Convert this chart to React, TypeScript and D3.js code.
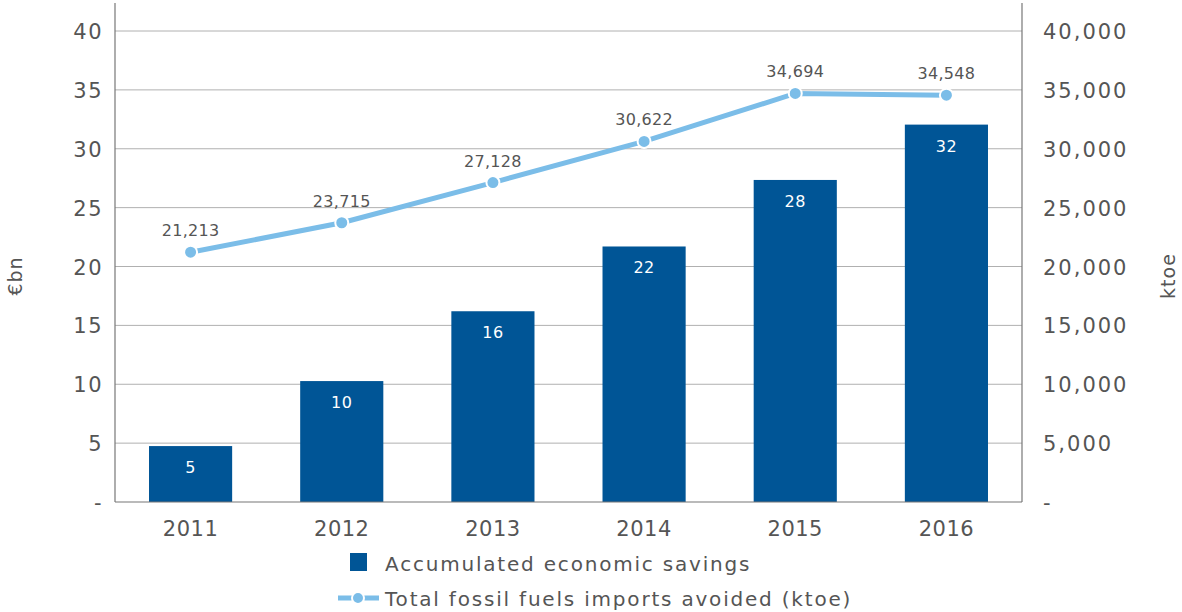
import React from "react";
import * as d3 from "d3";

const years = ["2011", "2012", "2013", "2014", "2015", "2016"];
const savings = [4.75, 10.27, 16.2, 21.7, 27.35, 32.05];
const savingsLabels = ["5", "10", "16", "22", "28", "32"];
const imports = [21213, 23715, 27128, 30622, 34694, 34548];
const leftTicks = [0, 5, 10, 15, 20, 25, 30, 35, 40];
const rightTicks = [0, 5000, 10000, 15000, 20000, 25000, 30000, 35000, 40000];

const W = 1182, H = 612;
const m = { left: 115, right: 1022, top: 31, bottom: 502 };
const barColor = "#005596";
const lineColor = "#7bbde8";
const textColor = "#555";
const font = "'DejaVu Sans', sans-serif";

export default function App() {
  const x = d3.scaleBand().domain(years).range([m.left, m.right]).paddingInner(0.45).paddingOuter(0.225);
  const yL = d3.scaleLinear().domain([0, 40]).range([m.bottom, m.top]);
  const yR = d3.scaleLinear().domain([0, 40000]).range([m.bottom, m.top]);
  const cx = (y: string) => (x(y) as number) + x.bandwidth() / 2;
  const line = d3.line<number>().x((_, i) => cx(years[i])).y((d) => yR(d));
  const fmt = d3.format(",");
  return (
    <svg width={W} height={H} style={{ position: "absolute", left: 0, top: 0, fontFamily: font }}>
      <rect width={W} height={H} fill="#fff" />
      {leftTicks.slice(1).map((t) => (
        <line key={t} x1={m.left} x2={m.right} y1={yL(t)} y2={yL(t)} stroke="#b0b0b0" strokeWidth={1} />
      ))}
      {years.map((yr, i) => (
        <g key={yr}>
          <rect x={x(yr)} y={yL(savings[i])} width={x.bandwidth()} height={m.bottom - yL(savings[i])} fill={barColor} />
          <text x={cx(yr)} y={yL(savings[i]) + 27} textAnchor="middle" fill="#fff" fontSize={16} letterSpacing={0.5}>{savingsLabels[i]}</text>
        </g>
      ))}
      <line x1={m.left} x2={m.left} y1={3} y2={m.bottom} stroke="#777" strokeWidth={1.2} />
      <line x1={m.right} x2={m.right} y1={3} y2={m.bottom} stroke="#777" strokeWidth={1.2} />
      <line x1={m.left} x2={m.right} y1={m.bottom} y2={m.bottom} stroke="#777" strokeWidth={1.2} />
      <path d={line(imports) || ""} fill="none" stroke={lineColor} strokeWidth={5} />
      {imports.map((v, i) => (
        <g key={i}>
          <circle cx={cx(years[i])} cy={yR(v)} r={6.5} fill={lineColor} stroke="#fff" strokeWidth={2} />
          <text x={cx(years[i])} y={yR(v) - 16} textAnchor="middle" fill={textColor} fontSize={16} letterSpacing={0.3}>{fmt(v)}</text>
        </g>
      ))}
      {leftTicks.map((t) => (
        <text key={t} x={103} y={yL(t) + 8} textAnchor="end" fill={textColor} fontSize={21} letterSpacing={1.5}>{t === 0 ? "-" : t}</text>
      ))}
      {rightTicks.map((t) => (
        <text key={t} x={1043} y={yR(t) + 8} textAnchor="start" fill={textColor} fontSize={21} letterSpacing={2}>{t === 0 ? "-" : fmt(t)}</text>
      ))}
      {years.map((yr) => (
        <text key={yr} x={cx(yr)} y={536} textAnchor="middle" fill={textColor} fontSize={21} letterSpacing={0.5}>{yr}</text>
      ))}
      <text transform={`translate(22,276) rotate(-90)`} textAnchor="middle" fill={textColor} fontSize={19} letterSpacing={1}>€bn</text>
      <text transform={`translate(1175,276) rotate(-90)`} textAnchor="middle" fill={textColor} fontSize={19} letterSpacing={1}>ktoe</text>
      <rect x={350} y={553} width={17} height={18} fill={barColor} />
      <text x={385} y={571} fill={textColor} fontSize={20} letterSpacing={1.8}>Accumulated economic savings</text>
      <line x1={338} x2={379} y1={598} y2={598} stroke={lineColor} strokeWidth={5} />
      <circle cx={358} cy={598} r={6} fill={lineColor} stroke="#fff" strokeWidth={2} />
      <text x={385} y={606} fill={textColor} fontSize={20} letterSpacing={1.8}>Total fossil fuels imports avoided (ktoe)</text>
    </svg>
  );
}
